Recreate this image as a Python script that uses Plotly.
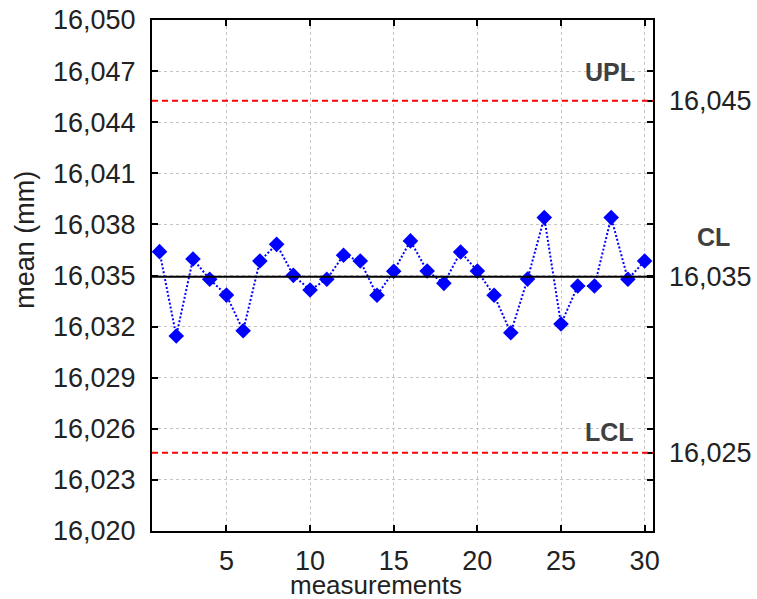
import plotly.graph_objects as go

measurements = list(range(1, 31))
means = [16.0364, 16.03145, 16.03597, 16.03478, 16.03385, 16.03176, 16.03585, 16.03683,
         16.03501, 16.03415, 16.03478, 16.03619, 16.03585, 16.03384, 16.03525, 16.03703,
         16.03526, 16.03454, 16.03638, 16.03526, 16.03384, 16.03164, 16.03479, 16.0384,
         16.03215, 16.03438, 16.03438, 16.0384, 16.03478, 16.03585]

UPL = 16.04526
CL = 16.03493
LCL = 16.02459

y_ticks = [16.020, 16.023, 16.026, 16.029, 16.032, 16.035, 16.038, 16.041, 16.044, 16.047, 16.050]
y_ticktext = ["16,020", "16,023", "16,026", "16,029", "16,032", "16,035", "16,038", "16,041",
              "16,044", "16,047", "16,050"]
x_ticks = [5, 10, 15, 20, 25, 30]
limit_vals = [UPL, CL, LCL]
limit_text = ["16,045", "16,035", "16,025"]
limit_names = ["UPL", "CL", "LCL"]

FONT = "Liberation Sans, Arial, sans-serif"
TXT = "#222222"
FS = 27

fig = go.Figure()
fig.add_trace(go.Scatter(
    x=measurements, y=means, mode="lines+markers",
    line=dict(color="#0000ff", width=2, dash="2px,2px"),
    marker=dict(symbol="diamond", size=12, color="#0000ff"),
    showlegend=False,
))
# invisible trace to activate right axis
fig.add_trace(go.Scatter(x=[measurements[0]], y=[CL], yaxis="y2", mode="markers",
                         marker=dict(opacity=0), showlegend=False, hoverinfo="skip"))

# control lines
fig.add_shape(type="line", xref="paper", x0=0, x1=1, yref="y", y0=CL, y1=CL,
              line=dict(color="black", width=2))
for v in (UPL, LCL):
    fig.add_shape(type="line", xref="paper", x0=0, x1=1, yref="y", y0=v, y1=v,
                  line=dict(color="#ff0000", width=2, dash="6px,4px"))

axis_common = dict(showline=True, linecolor="black", linewidth=2, ticks="inside",
                   tickcolor="black", tickwidth=2, ticklen=6,
                   tickfont=dict(family=FONT, size=FS, color=TXT),
                   showgrid=True, gridcolor="#c4c4c4", gridwidth=1, griddash="dot",
                   zeroline=False, automargin=False)

fig.update_layout(
    width=757, height=599,
    margin=dict(l=152, r=104, t=20, b=68, autoexpand=False),
    plot_bgcolor="white", paper_bgcolor="white",
    xaxis=dict(range=[0.55, 30.5], tickvals=x_ticks, mirror="ticks",
               ticklabelstandoff=5, **axis_common),
    yaxis=dict(range=[16.020, 16.050], tickvals=y_ticks, ticktext=y_ticktext,
               mirror="ticks", ticklabelstandoff=9, **axis_common),
    yaxis2=dict(range=[16.020, 16.050], overlaying="y", side="right",
                tickvals=limit_vals, ticktext=limit_text, showline=False,
                ticks="inside", tickcolor="black", tickwidth=2, ticklen=6,
                tickfont=dict(family=FONT, size=FS, color=TXT), automargin=False,
                showgrid=False, zeroline=False, ticklabelstandoff=15),
)

fig.add_annotation(text="measurements", xref="paper", yref="paper", x=0.447, y=0,
                   xanchor="center", yanchor="middle", yshift=-54, showarrow=False,
                   font=dict(family=FONT, size=26, color=TXT))
fig.add_annotation(text="mean (mm)", xref="paper", yref="paper", x=0, y=0.57,
                   xanchor="center", yanchor="middle", xshift=-127, textangle=-90,
                   showarrow=False, font=dict(family=FONT, size=FS, color=TXT))

label_pos = {"UPL": (0.914, 29), "CL": (1.12, 40), "LCL": (0.914, 21)}
for name, v in zip(limit_names, limit_vals):
    px, sh = label_pos[name]
    fig.add_annotation(text="<b>%s</b>" % name, xref="paper", yref="y", x=px, y=v,
                       yshift=sh, xanchor="center", yanchor="middle", showarrow=False,
                       font=dict(family=FONT, size=25, color="#404040"))

fig.write_html("out.html")
